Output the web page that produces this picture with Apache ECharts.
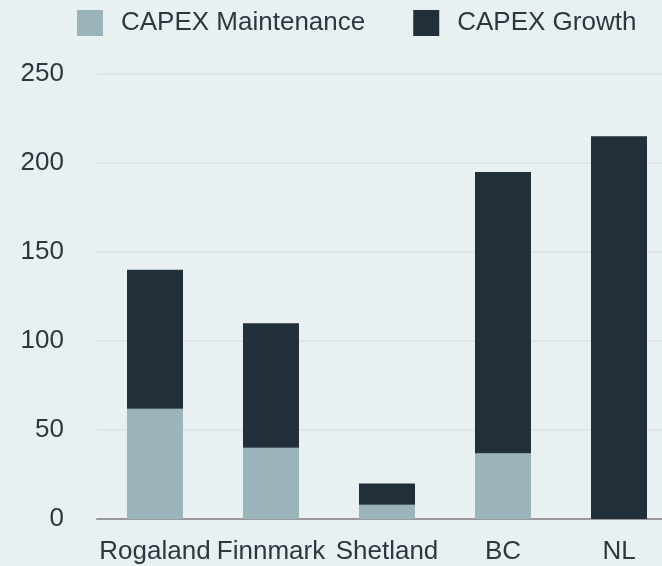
<!DOCTYPE html>
<html>
<head>
<meta charset="utf-8">
<script src="https://cdn.jsdelivr.net/npm/echarts@6/dist/echarts.min.js"></script>
<style>
  html, body { margin: 0; padding: 0; background: #e8f0f2; }
  #chart { width: 662px; height: 566px; }
</style>
</head>
<body>
<div id="chart"></div>
<script>
const regions = ['Rogaland', 'Finnmark', 'Shetland', 'BC', 'NL'];
const capexMaintenance = [62, 40, 8, 37, 0];
const capexGrowth = [78, 70, 12, 158, 215];
const yTicks = { min: 0, max: 250, interval: 50 };

const textColor = '#2e3740';
const chart = echarts.init(document.getElementById('chart'));

chart.setOption({
  backgroundColor: '#e8f0f2',
  textStyle: { fontFamily: 'Liberation Sans, Arial, sans-serif' },
  legend: {
    left: 77,
    top: 10,
    padding: 0,
    itemWidth: 26,
    itemHeight: 26,
    itemGap: 48,
    icon: 'rect',
    selectedMode: false,
    textStyle: { fontSize: 26, color: textColor, padding: [0, 0, 0, 13] },
    data: ['CAPEX Maintenance', 'CAPEX Growth'],
  },
  // plot area runs a bit past the right edge, like the original
  grid: {
    left: 97,
    width: 580,
    top: 74,
    bottom: 47,
    outerBoundsMode: 'none',
    containLabel: false,
  },
  xAxis: {
    type: 'category',
    data: regions,
    axisLine: { lineStyle: { color: '#999999', width: 2 } },
    axisTick: { show: false },
    axisLabel: { fontSize: 26, color: textColor, margin: 20, interval: 0 },
  },
  yAxis: {
    type: 'value',
    min: yTicks.min,
    max: yTicks.max,
    interval: yTicks.interval,
    axisLine: { show: false },
    axisTick: { show: false },
    axisLabel: { fontSize: 26, color: textColor, margin: 33 },
    splitLine: { lineStyle: { color: '#dfe5e7', width: 2 } },
  },
  series: [
    {
      name: 'CAPEX Maintenance',
      type: 'bar',
      stack: 'capex',
      barWidth: 56,
      itemStyle: { color: '#9bb3ba' },
      data: capexMaintenance,
    },
    {
      name: 'CAPEX Growth',
      type: 'bar',
      stack: 'capex',
      barWidth: 56,
      itemStyle: { color: '#212f3a' },
      data: capexGrowth,
    },
  ],
});
</script>
</body>
</html>
